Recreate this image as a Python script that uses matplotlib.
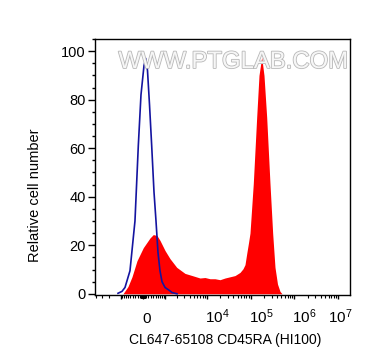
import numpy as np
import matplotlib
matplotlib.use('Agg')
import matplotlib.pyplot as plt
from matplotlib.ticker import FixedLocator, FixedFormatter, NullFormatter, MultipleLocator
from matplotlib.transforms import ScaledTranslation
import matplotlib.patheffects as pe

plt.rcParams['font.family'] = ['Liberation Sans', 'DejaVu Sans']
plt.rcParams['mathtext.fontset'] = 'custom'
plt.rcParams['mathtext.rm'] = 'Liberation Sans'
plt.rcParams['mathtext.it'] = 'Liberation Sans:italic'
plt.rcParams['mathtext.bf'] = 'Liberation Sans:bold'

# ---- data (fluorescence intensity, relative cell number) ----
isotype_x = [-1194, -927, -756, -510, -300, -172, -73, 36, 98, 165, 241, 327,
             422, 510, 603, 703, 811, 994, 1343, 1513, 2007]
isotype_y = [0.2, 1, 2.6, 9.5, 30, 61, 82, 94, 97, 92, 78, 61,
             42, 30, 17, 9.5, 5, 2.6, 1.2, 0.5, 0]

stained_x = [-868, -603, -422, -222, 11, 260, 393, 556, 703, 994, 1343, 1975,
             3108, 4771, 6912, 9002, 11717, 15250, 19853, 25840, 33600, 43730,
             56880, 66600, 74000, 80940, 89000, 96300, 114540, 137000, 154600,
             178200, 201200, 231800, 275800, 318000, 359000, 409600, 467000, 519000]
stained_y = [0, 3, 7, 13.6, 19, 23, 24.4, 24, 22, 17.8, 14.5, 10.9,
             8.4, 7.4, 6.5, 6.7, 6.2, 6.2, 5.8, 6.5, 7, 7.5,
             8.8, 10.3, 12, 16.5, 21, 25, 45.4, 72.8, 90,
             97.5, 90, 72.8, 45.4, 24.8, 10.9, 4, 1, 0]

x_major = [-1000, 0, 1000, 1e4, 1e5, 1e6, 1e7]
x_major_labels = ['', '0', '', '$10^{4}$', '$10^{5}$', '$10^{6}$', '$10^{7}$']
x_minor = sorted([s * k * 10 ** j for s in (-1, 1) for j in (1, 2, 3, 4, 5, 6)
                  for k in range(2, 10)] + [10, -10, 100, -100])
y_major = [0, 20, 40, 60, 80, 100]

xlabel = 'CL647-65108 CD45RA (HI100)'
ylabel = 'Relative cell number'
watermark = 'WWW.PTGLAB.COM'

C = 690.0
def fwd(x):
    return np.arcsinh(np.asarray(x, dtype=float) / C)
def inv(y):
    return C * np.sinh(np.asarray(y, dtype=float))

fig = plt.figure(figsize=(3.72, 3.64), dpi=100)
ax = fig.add_axes([95 / 372, 1 - 295 / 364, 255 / 372, 256 / 364])
ax.set_xscale('function', functions=(fwd, inv))

ax.fill_between(stained_x, stained_y, 0, color='#ff0000', lw=0, zorder=2)
ax.plot(isotype_x, isotype_y, color='#1414a0', lw=1.2, zorder=3)

ax.set_xlim(-4286, 1.86e7)
ax.set_ylim(-0.5, 105)

ax.xaxis.set_major_locator(FixedLocator(x_major))
ax.xaxis.set_major_formatter(FixedFormatter(x_major_labels))
ax.xaxis.set_minor_locator(FixedLocator(x_minor))
ax.xaxis.set_minor_formatter(NullFormatter())
ax.yaxis.set_major_locator(FixedLocator(y_major))
ax.yaxis.set_minor_locator(MultipleLocator(5))

for sp in ax.spines.values():
    sp.set_linewidth(1.0)
    sp.set_color('black')

ax.tick_params(axis='y', which='major', length=5, width=1, pad=1.5, labelsize=10.5)
ax.tick_params(axis='y', which='minor', length=2.2, width=1)
ax.tick_params(axis='x', which='major', length=3, width=1, pad=17, labelsize=11)
ax.tick_params(axis='x', which='minor', length=2, width=0.8)

offsets = {1: (3.5, 'center'), 3: (-1.5, 'left'), 4: (-1.5, 'left'),
           5: (-2, 'left'), 6: (-10, 'left')}
ticks = ax.xaxis.get_major_ticks()
for i, t in enumerate(ticks):
    lab = t.label1
    lab.set_verticalalignment('baseline')
    if i in offsets:
        dx, ha = offsets[i]
        lab.set_horizontalalignment(ha)
        lab.set_transform(lab.get_transform() + ScaledTranslation(dx / 100, 0, fig.dpi_scale_trans))

ax.set_xlabel(xlabel, fontsize=10)
ax.xaxis.set_label_coords((225 - 95) / 255, (295 - 333) / 256)
ax.set_ylabel(ylabel, fontsize=10.5)
ax.yaxis.set_label_coords((42 - 95) / 255, (295 - 195) / 256)

ax.text((233 - 95) / 255, (295 - 62) / 256, watermark, transform=ax.transAxes,
        ha='center', va='center', fontsize=17.2,
        family=['Liberation Sans', 'DejaVu Sans'],
        color='#f6f6f6', zorder=5,
        path_effects=[pe.withStroke(linewidth=1.2, foreground='#b8b8b8')])

fig.savefig('out.png', dpi=100)
